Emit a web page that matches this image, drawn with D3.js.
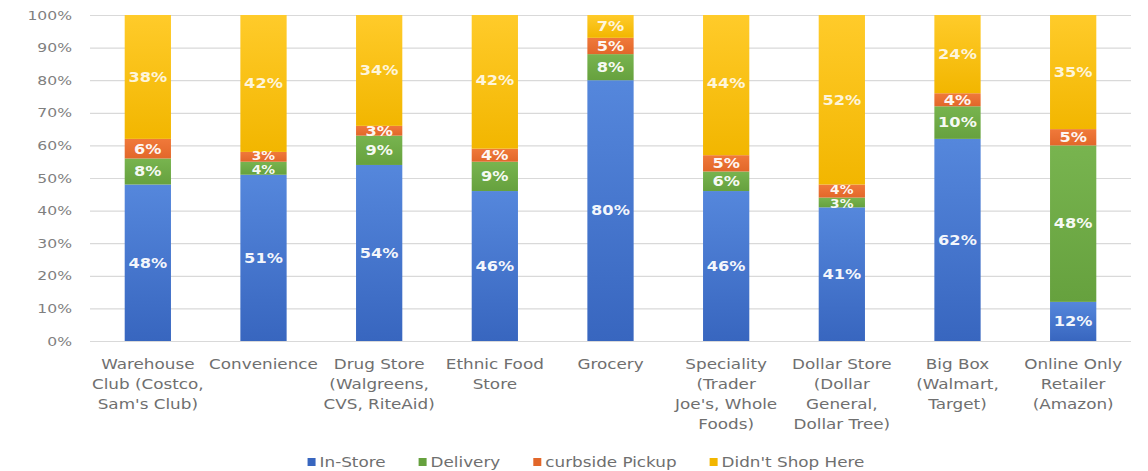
<!DOCTYPE html>
<html>
<head>
<meta charset="utf-8">
<script src="https://cdn.jsdelivr.net/npm/d3@7"></script>
<style>
  html, body { margin: 0; padding: 0; background: #ffffff; }
  svg { display: block; }
  text { font-family: "DejaVu Sans", Verdana, sans-serif; }
</style>
</head>
<body>
<div id="chart"></div>
<script>
// Store types (line breaks mark where each axis label wraps)
const categories = [
  "Warehouse\nClub (Costco,\nSam's Club)",
  "Convenience",
  "Drug Store\n(Walgreens,\nCVS, RiteAid)",
  "Ethnic Food\nStore",
  "Grocery",
  "Speciality\n(Trader\nJoe's, Whole\nFoods)",
  "Dollar Store\n(Dollar\nGeneral,\nDollar Tree)",
  "Big Box\n(Walmart,\nTarget)",
  "Online Only\nRetailer\n(Amazon)"
];

const seriesNames = ["In-Store", "Delivery", "curbside Pickup", "Didn't Shop Here"];

// Share of shoppers (%) per store type
const inStore   = [48, 51, 54, 46, 80, 46, 41, 62, 12];
const delivery  = [ 8,  4,  9,  9,  8,  6,  3, 10, 48];
const curbside  = [ 6,  3,  3,  4,  5,  5,  4,  4,  5];
const didntShop = [38, 42, 34, 42,  7, 44, 52, 24, 35];

const yTicks = [0, 10, 20, 30, 40, 50, 60, 70, 80, 90, 100];

// Layout: the drawing is laid out in a narrower coordinate space and
// widened horizontally to fill the window, giving the broad lettering.
const W = 1148, H = 471, SX = 1.2;
const LW = W / SX;
const plotLeft = 90 / SX, plotRight = 1131 / SX;
const plotTop = 15, plotBottom = 341;

const colors = {
  "In-Store":         ["#5587dc", "#3866bf"],
  "Delivery":         ["#78b44f", "#66a13e"],
  "curbside Pickup":  ["#f0793a", "#e2672a"],
  "Didn't Shop Here": ["#ffcb2a", "#f2b600"]
};

const rows = categories.map((c, i) => ({
  category: c,
  "In-Store": inStore[i],
  "Delivery": delivery[i],
  "curbside Pickup": curbside[i],
  "Didn't Shop Here": didntShop[i]
}));

const svg = d3.select("#chart").append("svg")
  .attr("width", W).attr("height", H)
  .attr("viewBox", `0 0 ${LW} ${H}`)
  .attr("preserveAspectRatio", "none");

const defs = svg.append("defs");
seriesNames.forEach((s, i) => {
  const g = defs.append("linearGradient")
    .attr("id", "grad" + i)
    .attr("x1", 0).attr("y1", 0).attr("x2", 0).attr("y2", 1);
  g.append("stop").attr("offset", "0%").attr("stop-color", colors[s][0]);
  g.append("stop").attr("offset", "100%").attr("stop-color", colors[s][1]);
});

const x = d3.scaleBand()
  .domain(categories)
  .range([plotLeft, plotRight])
  .paddingInner(0.6)
  .paddingOuter(0.3);

const y = d3.scaleLinear()
  .domain([0, 100])
  .range([plotBottom, plotTop])
  .clamp(true);

// Gridlines and percentage axis
const yAxis = svg.append("g")
  .attr("transform", `translate(${plotLeft},0)`)
  .call(d3.axisLeft(y)
    .tickValues(yTicks)
    .tickSize(-(plotRight - plotLeft))
    .tickPadding(18 / SX)
    .tickFormat(d => d + "%"));
yAxis.select(".domain").remove();
yAxis.selectAll(".tick line")
  .attr("stroke", "#d9d9d9")
  .attr("stroke-width", 1.2);
yAxis.selectAll(".tick text")
  .attr("fill", "#7f7f7f")
  .attr("font-size", 13)
  .attr("font-family", "DejaVu Sans");

// Stacked bars
const stack = d3.stack().keys(seriesNames);
const stacked = stack(rows);

const layers = svg.append("g").selectAll("g")
  .data(stacked)
  .join("g")
  .attr("fill", (d, i) => `url(#grad${i})`);

layers.selectAll("rect")
  .data(d => d.map(p => ({ p, key: d.key })))
  .join("rect")
  .attr("x", d => x(d.p.data.category))
  .attr("width", x.bandwidth())
  .attr("y", d => y(d.p[1]))
  .attr("height", d => y(d.p[0]) - y(d.p[1]));

// Value labels at the centre of each segment; labels of thin neighbouring
// segments are set smaller and spread apart so they stay readable.
const minGap = 14;
const labelData = [];
categories.forEach((c, ci) => {
  const col = stacked.map(layer => {
    const p = layer[ci];
    return { cat: c, key: layer.key, v: p[1] - p[0], ly: y((p[0] + p[1]) / 2), size: 13.5 };
  });
  for (let k = 1; k < col.length; k++) {
    const a = col[k - 1], b = col[k];
    const d = a.ly - b.ly;
    if (d < minGap) {
      const push = (minGap - d) / 2;
      a.ly += push;
      b.ly -= push;
      a.size = b.size = 11.5;
    }
  }
  labelData.push(...col);
});

svg.append("g").selectAll("text")
  .data(labelData)
  .join("text")
  .attr("x", d => x(d.cat) + x.bandwidth() / 2)
  .attr("y", d => d.ly)
  .attr("dy", "0.36em")
  .attr("text-anchor", "middle")
  .attr("font-size", d => d.size)
  .attr("font-weight", "bold")
  .attr("fill", "#ffffff")
  .attr("fill-opacity", d => d.key === "Didn't Shop Here" ? 0.85 : 0.95)
  .text(d => d.v + "%");

// Category labels, wrapped over several lines
const xLabels = svg.append("g");
categories.forEach(c => {
  const t = xLabels.append("text")
    .attr("x", x(c) + x.bandwidth() / 2)
    .attr("y", 369)
    .attr("text-anchor", "middle")
    .attr("font-size", 14)
    .attr("fill", "#6f6f6f");
  c.split("\n").forEach((line, i) => {
    t.append("tspan")
      .attr("x", x(c) + x.bandwidth() / 2)
      .attr("dy", i === 0 ? 0 : 20)
      .text(line);
  });
});

// Legend
const legend = svg.append("g");
const legendY = 462;
const items = legend.selectAll("g")
  .data(seriesNames)
  .join("g");
items.append("rect")
  .attr("width", 8 / SX)
  .attr("height", 8)
  .attr("y", legendY - 4)
  .attr("fill", (d, i) => colors[d][1]);
items.append("text")
  .attr("x", 12 / SX)
  .attr("y", legendY)
  .attr("dy", "0.36em")
  .attr("font-size", 14)
  .attr("fill", "#6f6f6f")
  .text(d => d);

const gap = 33 / SX;
let cursor = 0;
const offsets = [];
items.each(function () {
  const w = 12 / SX + this.querySelector("text").getComputedTextLength();
  offsets.push(cursor);
  cursor += w + gap;
});
const total = cursor - gap;
const legendCenter = 586 / SX;
items.attr("transform", (d, i) => `translate(${legendCenter - total / 2 + offsets[i]},0)`);
</script>
</body>
</html>
